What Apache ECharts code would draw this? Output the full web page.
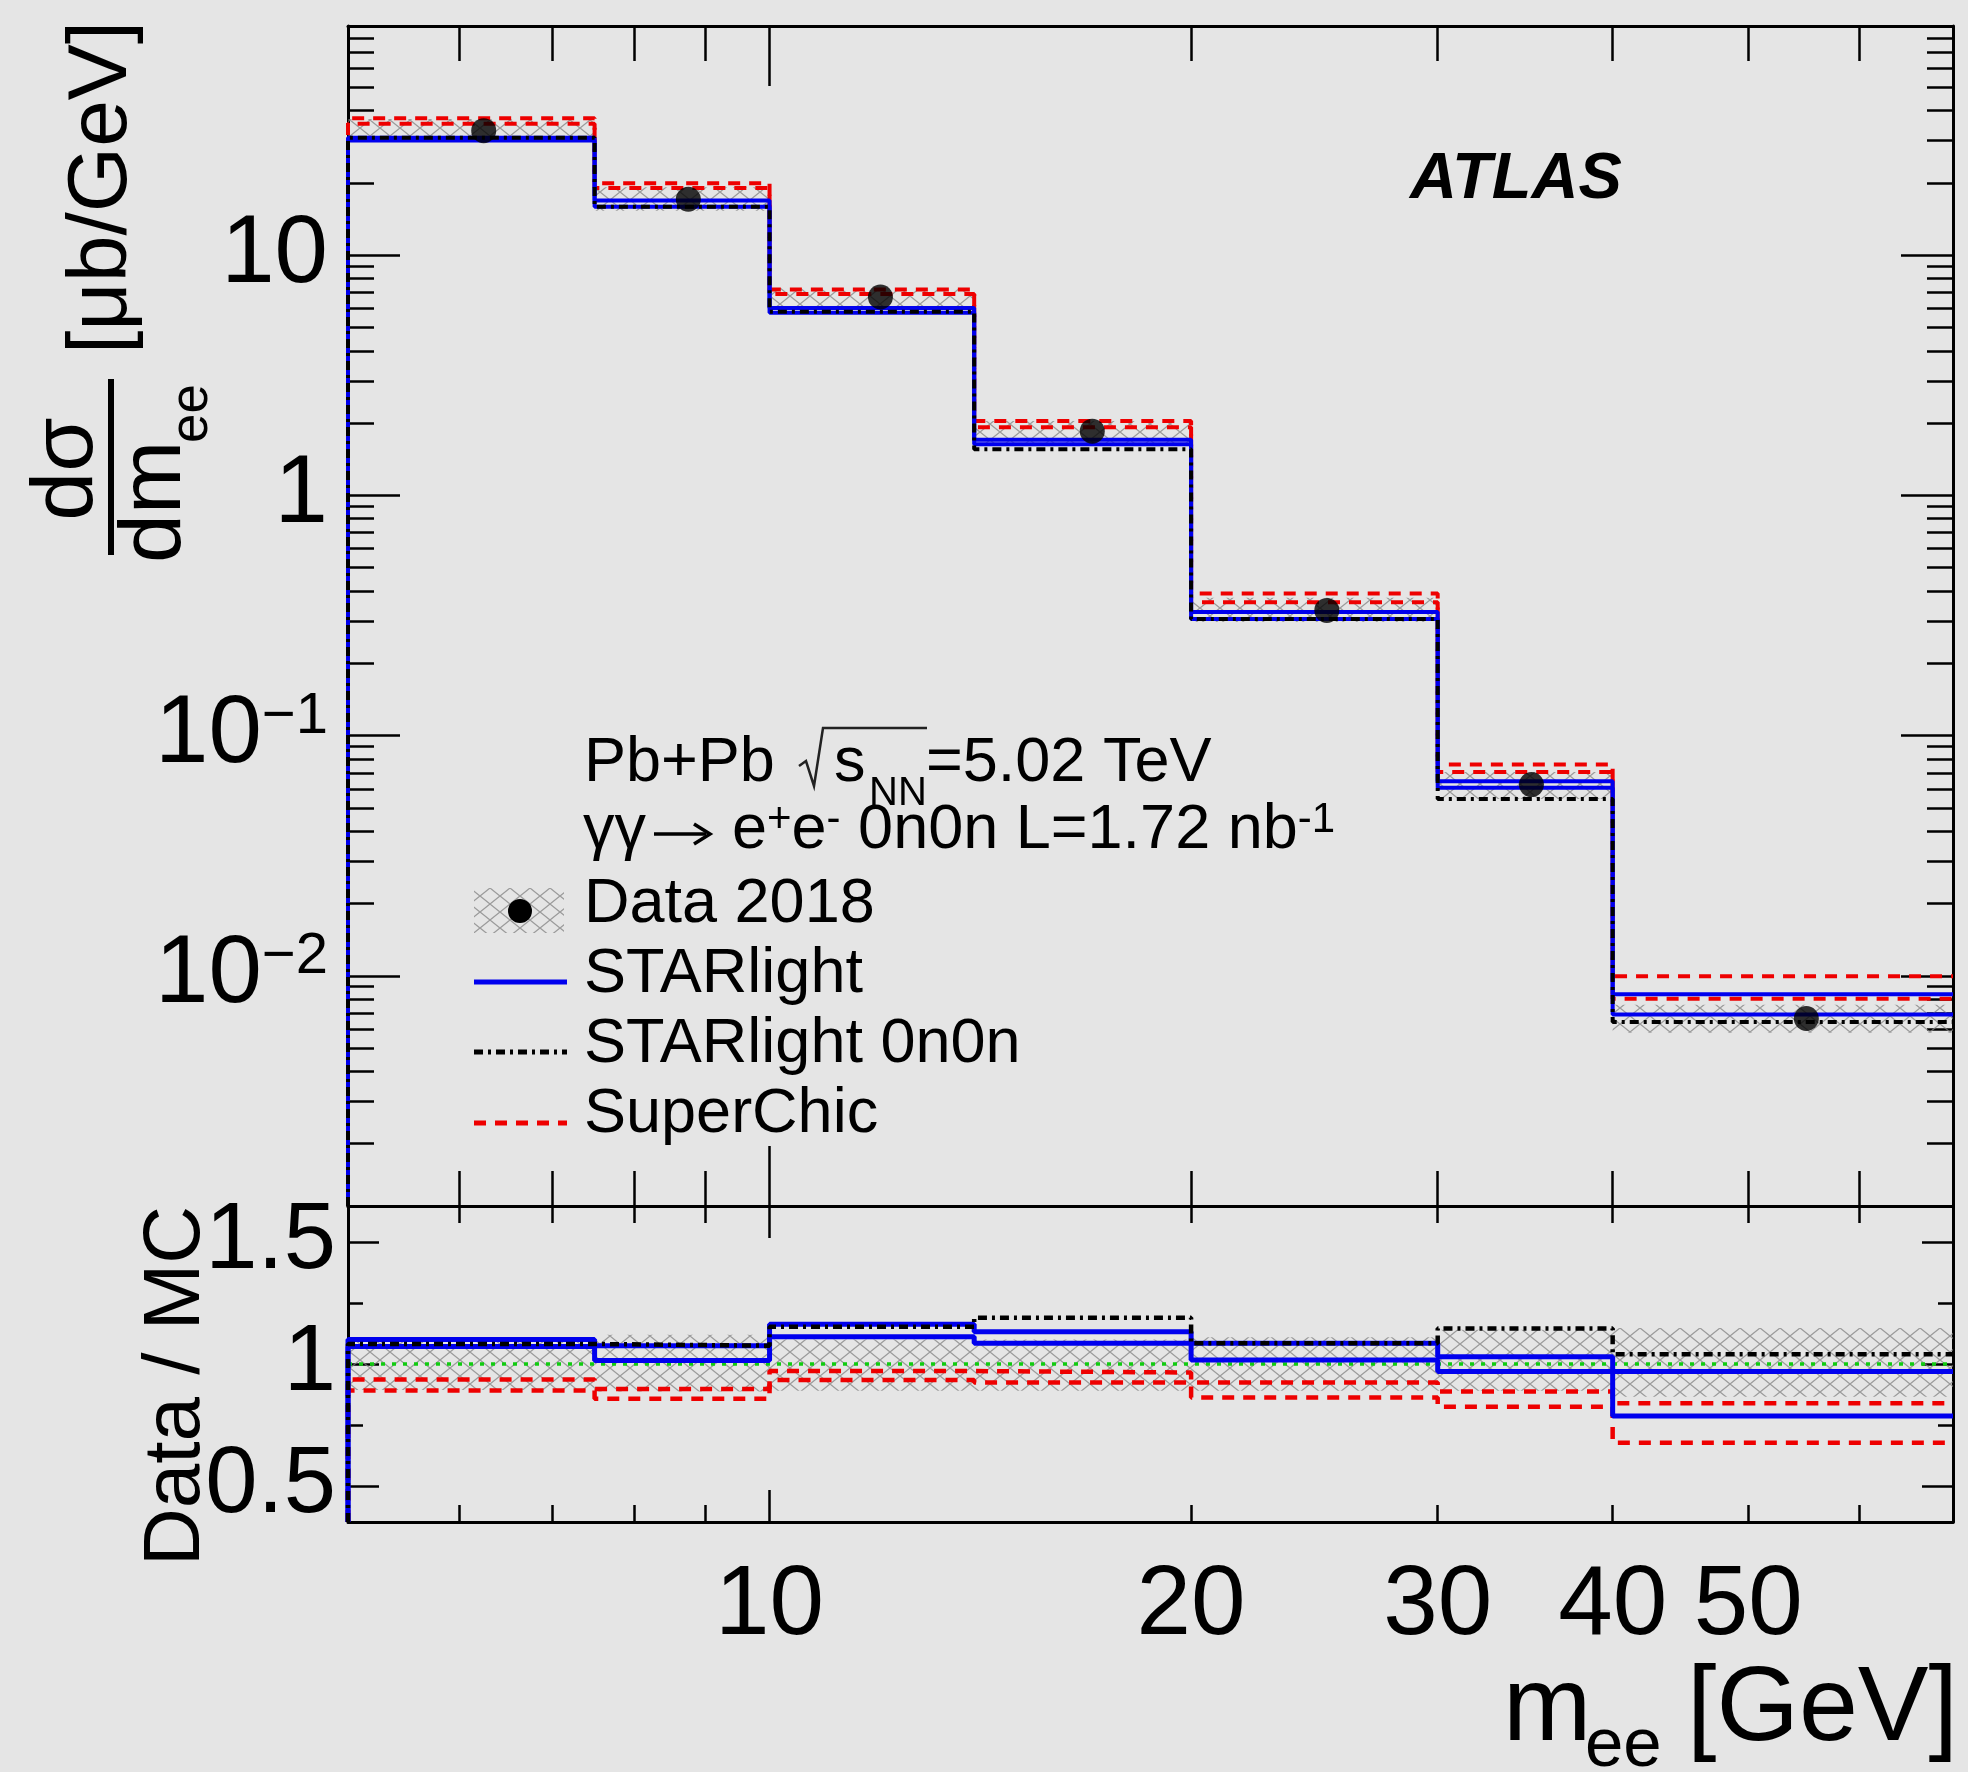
<!DOCTYPE html>
<html><head><meta charset="utf-8">
<script src="https://cdn.jsdelivr.net/npm/echarts@6/dist/echarts.min.js"></script>
<style>html,body{margin:0;padding:0;background:#e5e5e5;}#chart{width:1968px;height:1772px;}</style>
</head><body><div id="chart"></div>
<script>
// ---------------- data ----------------
const binEdges   = [5, 7.5, 10, 14, 20, 30, 40, 70];
const binCenters = [6.25, 8.75, 12, 17, 25, 35, 55];
const dataXsec     = [33.0, 17.1, 6.7, 1.85, 0.332, 0.0625, 0.00664];
const dataBandLow  = [29.6, 15.3, 5.95, 1.65, 0.297, 0.0545, 0.00579];
const dataBandHigh = [36.9, 19.2, 7.3, 2.04, 0.375, 0.0705, 0.00757];
const starlightHigh  = [30.8, 16.9, 6.03, 1.705, 0.327, 0.0645, 0.00838];
const starlightLow   = [30.0, 15.9, 5.76, 1.634, 0.306, 0.0607, 0.0069];
const starlight0n0n  = [30.8, 15.9, 5.81, 1.555, 0.306, 0.0545, 0.00642];
const superchicHigh  = [37.2, 19.95, 7.2, 2.04, 0.39, 0.0758, 0.00995];
const superchicLow   = [35.3, 19.06, 6.9, 1.92, 0.359, 0.0705, 0.00803];
const ratioStarlightHigh = [1.100, 1.075, 1.163, 1.132, 1.085, 1.030, 0.969];
const ratioStarlightLow  = [1.072, 1.014, 1.112, 1.085, 1.016, 0.969, 0.787];
const ratio0n0n          = [1.082, 1.075, 1.153, 1.190, 1.085, 1.146, 1.040];
const ratioSuperchicHigh = [0.936, 0.897, 0.971, 0.965, 0.924, 0.887, 0.839];
const ratioSuperchicLow  = [0.891, 0.857, 0.934, 0.924, 0.863, 0.825, 0.677];
const ratioBandLow  = [0.893, 0.887, 0.890, 0.890, 0.890, 0.890, 0.866];
const ratioBandHigh = [1.110, 1.120, 1.100, 1.100, 1.110, 1.140, 1.148];
const xTickLabels = [10, 20, 30, 40, 50];
const xMajorTicks = [10];
const xMinorTicks = [6, 7, 8, 9, 20, 30, 40, 50, 60];
const yMainMajor = [0.01, 0.1, 1, 10];
const yMainMinor = [0.002,0.003,0.004,0.005,0.006,0.007,0.008,0.009,
                    0.02,0.03,0.04,0.05,0.06,0.07,0.08,0.09,
                    0.2,0.3,0.4,0.5,0.6,0.7,0.8,0.9,
                    2,3,4,5,6,7,8,9,20,30,40,50,60,70,80];
const yRatioMajor = [0.5, 1, 1.5];
const yRatioMinor = [0.75, 1.25];

// ---------------- helpers ----------------
const FONT = '"Liberation Sans", Arial, Helvetica, sans-serif';
const X_MIN = 5, X_MAX = 70, Y_MIN = 0.0011, Y_MAX = 90, R_MIN = 0.352, R_MAX = 1.648;
const BLUE = '#0000ee', RED = '#ee0000', GREEN = '#11cc11';
const DASH_RED = [12, 9], DASH_DOT = [9, 5, 3, 5], DOT_GREEN = [4, 7];

function makeHatch() {
  const c = document.createElement('canvas');
  const w = 20, h = 16; c.width = w; c.height = h;
  const g = c.getContext('2d');
  g.strokeStyle = 'rgba(130,130,130,0.75)'; g.lineWidth = 1.3;
  g.beginPath(); g.moveTo(0, 0); g.lineTo(w, h); g.moveTo(w, 0); g.lineTo(0, h); g.stroke();
  return c;
}
const hatchCanvas = makeHatch();
const hatchFill = () => ({ image: hatchCanvas, repeat: 'repeat' });

function stepData(values, floor) {
  const pts = [[binEdges[0], floor]];
  values.forEach((v, i) => pts.push([binEdges[i], v]));
  pts.push([binEdges[binEdges.length - 1], values[values.length - 1]]);
  return pts;
}
function hist(values, floor, color, width, dash, ai, z) {
  return { type: 'line', xAxisIndex: ai, yAxisIndex: ai, data: stepData(values, floor), step: 'end',
    symbol: 'none', showSymbol: false, silent: true, z: z,
    lineStyle: { color: color, width: width, type: dash || 'solid' } };
}
function bandSeries(lo, hi, ai) {
  return { type: 'custom', xAxisIndex: ai, yAxisIndex: ai, silent: true, z: 1,
    data: lo.map((l, i) => [binEdges[i], binEdges[i + 1], l, hi[i]]),
    encode: { x: [0, 1], y: [2, 3] },
    renderItem: (params, api) => {
      const a = api.coord([api.value(0), api.value(3)]);
      const b = api.coord([api.value(1), api.value(2)]);
      return { type: 'rect', shape: { x: a[0], y: a[1], width: b[0] - a[0], height: b[1] - a[1] },
        style: { fill: hatchFill(), stroke: null } };
    } };
}
const tickStyle = { color: '#000', width: 2.5 };
function xAx(grid, pos, vals, len, line, label) {
  return { type: 'log', logBase: 10, min: X_MIN, max: X_MAX, gridIndex: grid, position: pos,
    axisLine: { show: line, onZero: false, lineStyle: { color: '#000', width: 3 } },
    axisTick: { show: true, inside: true, length: len, customValues: vals, lineStyle: tickStyle },
    axisLabel: label || { show: false }, splitLine: { show: false }, axisPointer: { show: false } };
}
function yAx(grid, pos, type, min, max, vals, len, line, label) {
  const o = { type: type, min: min, max: max, gridIndex: grid, position: pos,
    axisLine: { show: line, onZero: false, lineStyle: { color: '#000', width: 3 } },
    axisTick: { show: true, inside: true, length: len, customValues: vals, lineStyle: tickStyle },
    axisLabel: label || { show: false }, splitLine: { show: false }, axisPointer: { show: false } };
  if (type === 'log') o.logBase = 10;
  return o;
}

const xLabel = { show: true, customValues: xTickLabels, fontSize: 98, fontFamily: FONT, color: '#000', margin: 36,
  formatter: v => String(Math.round(v)) };
const yMainLabel = { show: true, customValues: yMainMajor, fontFamily: FONT, color: '#000', margin: 20,
  formatter: v => { const e = Math.round(Math.log10(v)); if (e === 0) return '{b|1}'; if (e === 1) return '{b|10}';
    return '{b|10}{e|\u2212' + (-e) + '}'; },
  rich: { b: { fontSize: 96, fontFamily: FONT, color: '#000' },
          e: { fontSize: 58, fontFamily: FONT, color: '#000', verticalAlign: 'top' } } };
const yRatioLabel = { show: true, customValues: yRatioMajor, fontSize: 94, fontFamily: FONT, color: '#000', margin: 12,
  formatter: v => (v === 1 ? '1' : String(v)) };

// ---------------- chart ----------------
const chart = echarts.init(document.getElementById('chart'), null, { renderer: 'canvas' });
const T = (text, x, y, size, extra) => Object.assign({ type: 'text', x: x, y: y, silent: true, z: 100,
  style: Object.assign({ text: text, font: size + 'px ' + FONT, fontSize: size, fontFamily: FONT, fill: '#000',
    textFill: '#000', align: 'left', textAlign: 'left', verticalAlign: 'middle', textVerticalAlign: 'middle' }, extra || {}) });
const ROT = Math.PI / 2;

const graphics = [
  // ATLAS
  T('ATLAS', 1410, 180, 65, { font: 'italic bold 65px ' + FONT, fontStyle: 'italic', fontWeight: 'bold' }),
  // annotation line 1
  T('Pb+Pb', 584, 764, 63),
  { type: 'polyline', silent: true, z: 100, shape: { points: [[799, 766], [806, 761], [814, 786], [823, 728], [927, 728]] },
    style: { stroke: '#222', lineWidth: 2.5, fill: null } },
  T('s', 834, 764, 63),
  T('NN', 869, 794, 40),
  T('=5.02 TeV', 926, 764, 63),
  // annotation line 2
  T('\u03b3\u03b3', 583, 831, 63),
  { type: 'line', silent: true, z: 100, shape: { x1: 654, y1: 834, x2: 706, y2: 834 }, style: { stroke: '#000', lineWidth: 3.5 } },
  { type: 'polyline', silent: true, z: 100, shape: { points: [[694, 824], [710, 834], [694, 844]] },
    style: { stroke: '#000', lineWidth: 3.5, fill: null } },
  { type: 'text', x: 732, y: 831, silent: true, z: 100,
    style: { text: '{t|e}{s|+}{t|e}{s|-}{t| 0n0n L=1.72 nb}{s|-1}', fill: '#000', textFill: '#000',
      align: 'left', textAlign: 'left', verticalAlign: 'middle', textVerticalAlign: 'middle',
      rich: { t: { fontSize: 63, fontFamily: FONT, color: '#000', fill: '#000' },
              s: { fontSize: 42, fontFamily: FONT, color: '#000', fill: '#000', verticalAlign: 'top' } } } },
  // legend
  { type: 'rect', silent: true, z: 100, shape: { x: 474, y: 888, width: 90, height: 45 }, style: { fill: hatchFill(), stroke: null } },
  { type: 'circle', silent: true, z: 101, shape: { cx: 520, cy: 911, r: 12 }, style: { fill: '#000' } },
  T('Data 2018', 584, 905, 63),
  { type: 'line', silent: true, z: 100, shape: { x1: 474, y1: 982, x2: 567, y2: 982 }, style: { stroke: BLUE, lineWidth: 5 } },
  T('STARlight', 584, 975, 63),
  { type: 'line', silent: true, z: 100, shape: { x1: 474, y1: 1052, x2: 567, y2: 1052 }, style: { stroke: '#000', lineWidth: 5, lineDash: DASH_DOT } },
  T('STARlight 0n0n', 584, 1045, 63),
  { type: 'line', silent: true, z: 100, shape: { x1: 474, y1: 1123, x2: 567, y2: 1123 }, style: { stroke: RED, lineWidth: 5, lineDash: DASH_RED } },
  T('SuperChic', 584, 1115, 63),
  // y title (rotated)
  Object.assign(T('d\u03c3', 68, 469, 88, { align: 'center', textAlign: 'center' }), { rotation: ROT }),
  { type: 'line', silent: true, z: 100, shape: { x1: 111, y1: 379, x2: 111, y2: 555 }, style: { stroke: '#000', lineWidth: 6 } },
  Object.assign(T('dm', 156, 563, 88), { rotation: ROT }),
  Object.assign(T('ee', 192, 443, 53), { rotation: ROT }),
  Object.assign(T('[\u03bcb/GeV]', 103, 354, 84), { rotation: ROT }),
  Object.assign(T('Data / MC', 177, 1566, 80), { rotation: ROT }),
  // x title
  T('m', 1503, 1711, 106),
  T('ee', 1585, 1747, 69),
  T('[GeV]', 1958, 1711, 106, { align: 'right', textAlign: 'right' })
];

const option = {
  animation: false,
  backgroundColor: '#e5e5e5',
  grid: [
    { left: 348, top: 26, width: 1605, height: 1180, containLabel: false, outerBoundsMode: 'none' },
    { left: 348, top: 1206, width: 1605, height: 316, containLabel: false, outerBoundsMode: 'none' }
  ],
  xAxis: [
    xAx(0, 'bottom', xMajorTicks, 60, true), xAx(0, 'bottom', xMinorTicks, 35, false),
    xAx(0, 'top', xMajorTicks, 60, true), xAx(0, 'top', xMinorTicks, 35, false),
    xAx(1, 'bottom', xMajorTicks, 32, true, xLabel), xAx(1, 'bottom', xMinorTicks, 17, false),
    xAx(1, 'top', xMajorTicks, 32, true), xAx(1, 'top', xMinorTicks, 17, false)
  ],
  yAxis: [
    yAx(0, 'left', 'log', Y_MIN, Y_MAX, yMainMajor, 52, true, yMainLabel),
    yAx(0, 'left', 'log', Y_MIN, Y_MAX, yMainMinor, 26, false),
    yAx(0, 'right', 'log', Y_MIN, Y_MAX, yMainMajor, 52, true),
    yAx(0, 'right', 'log', Y_MIN, Y_MAX, yMainMinor, 26, false),
    yAx(1, 'left', 'value', R_MIN, R_MAX, yRatioMajor, 31, true, yRatioLabel),
    yAx(1, 'left', 'value', R_MIN, R_MAX, yRatioMinor, 15, false),
    yAx(1, 'right', 'value', R_MIN, R_MAX, yRatioMajor, 31, true),
    yAx(1, 'right', 'value', R_MIN, R_MAX, yRatioMinor, 15, false)
  ],
  series: [
    bandSeries(dataBandLow, dataBandHigh, 0),
    hist(superchicHigh, Y_MIN, RED, 4, DASH_RED, 0, 3),
    hist(superchicLow, Y_MIN, RED, 4, DASH_RED, 0, 3),
    hist(starlightHigh, Y_MIN, BLUE, 4, 'solid', 0, 4),
    hist(starlightLow, Y_MIN, BLUE, 4, 'solid', 0, 4),
    hist(starlight0n0n, Y_MIN, '#000', 4, DASH_DOT, 0, 5),
    { type: 'scatter', xAxisIndex: 0, yAxisIndex: 0, silent: true, z: 10, symbol: 'circle', symbolSize: 25,
      itemStyle: { color: '#000' }, data: binCenters.map((x, i) => [x, dataXsec[i]]) },
    bandSeries(ratioBandLow, ratioBandHigh, 4),
    { type: 'line', xAxisIndex: 4, yAxisIndex: 4, silent: true, z: 2, symbol: 'none', data: [[X_MIN, 1], [X_MAX, 1]],
      lineStyle: { color: GREEN, width: 3.5, type: DOT_GREEN } },
    hist(ratioSuperchicHigh, R_MIN, RED, 4.5, DASH_RED, 4, 3),
    hist(ratioSuperchicLow, R_MIN, RED, 4.5, DASH_RED, 4, 3),
    hist(ratioStarlightHigh, R_MIN, BLUE, 5, 'solid', 4, 4),
    hist(ratioStarlightLow, R_MIN, BLUE, 5, 'solid', 4, 4),
    hist(ratio0n0n, R_MIN, '#000', 4.5, DASH_DOT, 4, 5)
  ],
  graphic: graphics
};
chart.setOption(option);
</script></body></html>
